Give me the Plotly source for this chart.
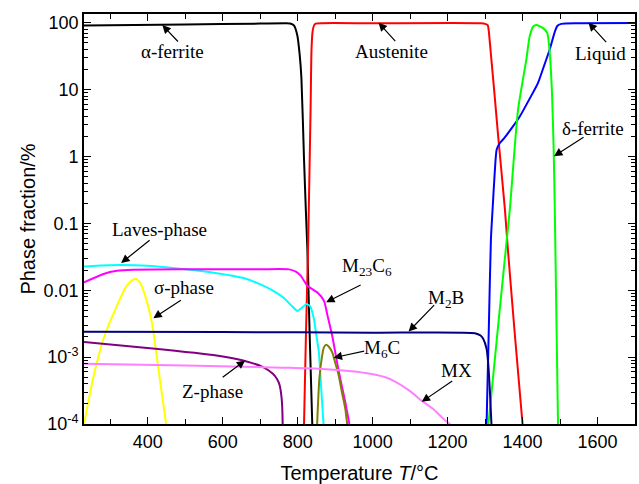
import plotly.graph_objects as go
import math

# ---------------- data ----------------
alpha_T = [230, 500, 700, 770, 780, 790, 799, 805, 810, 817, 822, 826, 832, 839]
alpha_v = [91, 94, 97, 98, 97, 91, 65, 35, 15, 0.9, 0.15, 0.04, 0.0022, 1e-4]

aus_T = [817, 822, 828, 834.5, 837, 840, 844, 848, 1000, 1290, 1300, 1307, 1313, 1335, 1353, 1361, 1380, 1400]
aus_v = [1e-4, 0.002, 0.05, 5, 40, 75, 92, 97, 98, 98, 96, 92, 49, 2, 0.16, 0.04, 0.002, 1e-4]

liq_T = [1304, 1310, 1315.6, 1320, 1326, 1331, 1340, 1350, 1370, 1393, 1420, 1441, 1460, 1472, 1486, 1493, 1503, 1550, 1700]
liq_v = [1e-4, 0.0027, 0.058, 0.16, 0.6, 1.27, 1.6, 1.85, 2.6, 4, 7.5, 12.5, 25, 39, 73, 90, 96, 98, 99]

delta_T = [1309, 1335, 1358, 1366, 1388, 1410, 1419, 1428, 1437, 1455, 1466, 1472, 1478.5, 1483, 1486, 1490, 1494.6]
delta_v = [1e-4, 0.003, 0.058, 0.16, 5, 28, 62, 87, 92, 83, 70, 39, 9, 1.27, 0.16, 0.005, 1e-4]

laves_T = [230, 300, 400, 500, 584, 660, 708, 735, 760, 786, 799, 812, 823, 833, 843, 850, 856.5, 863, 869]
laves_v = [0.0227, 0.0237, 0.0232, 0.0206, 0.018, 0.015, 0.0117, 0.0098, 0.0079, 0.0057, 0.0049, 0.0055, 0.0062, 0.0058, 0.0038, 0.0021, 0.0012, 0.00033, 1e-4]

m23_T = [230, 282, 318, 362, 500, 700, 777, 795, 808, 826, 852, 870, 880, 892, 910, 927, 938]
m23_v = [0.0131, 0.0175, 0.0195, 0.0203, 0.0206, 0.0206, 0.0205, 0.019, 0.0165, 0.0117, 0.0093, 0.0070, 0.0041, 0.0021, 0.0006, 0.000214, 1e-4]

m2b_T = [230, 600, 1000, 1273, 1288, 1295, 1304, 1308, 1313, 1317]
m2b_v = [0.0024, 0.00237, 0.00232, 0.00228, 0.0021, 0.00188, 0.00133, 0.00085, 0.0003, 1e-4]

m6c_T = [852, 858, 865.5, 870, 876, 882, 892, 900, 909.6, 918, 927, 932]
m6c_v = [1e-4, 4.8e-4, 0.00106, 0.0014, 0.00153, 0.00145, 0.00119, 0.00083, 0.00053, 0.0003, 0.00017, 1e-4]

z_T = [230, 406, 583.5, 654.5, 707.6, 734, 745, 752, 757, 759, 760]
z_v = [0.00168, 0.00136, 0.00106, 0.00089, 0.00071, 0.000565, 0.00047, 0.00038, 0.00025, 0.00017, 1e-4]

mx_T = [230, 500, 761, 856, 981, 1034, 1060, 1100, 1131, 1160, 1193, 1207]
mx_v = [0.000796, 0.00075, 0.000695, 0.00067, 0.00058, 0.0005, 0.00043, 0.00031, 0.000222, 0.00017, 0.000114, 1e-4]

sigma_T = [230, 256, 282, 318, 344, 360, 369, 380, 393, 411, 428.5, 449]
sigma_v = [1e-4, 5.3e-4, 0.00188, 0.0059, 0.0117, 0.0143, 0.0147, 0.0128, 0.0083, 0.00333, 0.00067, 1e-4]

y_tickvals = [1e-4, 1e-3, 0.01, 0.1, 1, 10, 100]
y_ticktext = ["10<sup>-4</sup>", "10<sup>-3</sup>", "0.01", "0.1", "1", "10", "100"]

series = [
    ("α-ferrite", alpha_T, alpha_v, "#000000"),
    ("Austenite", aus_T, aus_v, "#FF0000"),
    ("Liquid", liq_T, liq_v, "#0000FF"),
    ("δ-ferrite", delta_T, delta_v, "#00FF00"),
    ("Laves-phase", laves_T, laves_v, "#00FFFF"),
    ("M23C6", m23_T, m23_v, "#FF00FF"),
    ("σ-phase", sigma_T, sigma_v, "#FFFF00"),
    ("M2B", m2b_T, m2b_v, "#000080"),
    ("M6C", m6c_T, m6c_v, "#808000"),
    ("Z-phase", z_T, z_v, "#800080"),
    ("MX", mx_T, mx_v, "#FF80FF"),
]

# label text position (T, log10 value) and arrow tip (T, log10 value, dx, dy in px)
labels = [
    ("α-ferrite", 466, 1.568, 439, 1.966, 17, 18),
    ("Austenite", 1050, 1.568, 1016, 2.0, 18, 20),
    ("Liquid", 1609, 1.545, 1576, 2.0, 19, 21),
    ("δ-ferrite", 1587, 0.412, 1484, 0.004, 31, -20),
    ("Laves-phase", 431, -1.088, 329, -1.594, 30, -24),
    ("σ-phase", 498, -1.956, 415, -2.418, 29, -19),
    ("Z-phase", 573, -3.52, 660, -3.05, -24, 18),
    ("M<sub>23</sub>C<sub>6</sub>", 985, -1.658, 876, -2.18, 36, -18),
    ("M<sub>2</sub>B", 1197, -2.13, 1096, -2.618, 27, -28),
    ("M<sub>6</sub>C", 1025, -2.875, 896, -3.009, 32, -7),
    ("MX", 1224, -3.199, 1131, -3.669, 32, -22),
]

fig = go.Figure()
for name, xs, ys, col in series:
    fig.add_trace(go.Scatter(x=xs, y=ys, mode="lines", name=name,
                             line=dict(color=col, width=2, shape="spline", smoothing=0.6),
                             showlegend=False))

serif = "Liberation Serif, Times New Roman, serif"
for text, tx, ty, ax_, ay_, dx, dy in labels:
    fig.add_annotation(x=tx, y=ty, text=text, showarrow=False,
                       font=dict(family=serif, size=19, color="black"))
    fig.add_annotation(x=ax_, y=ay_, text="", showarrow=True, ax=dx, ay=dy,
                       arrowhead=2, arrowsize=1.4, arrowwidth=1.2, arrowcolor="black")

sans = "Liberation Sans, Arial, sans-serif"
minor_y = [m * 10 ** e for e in range(-4, 3) for m in range(2, 10)]
fig.update_layout(
    width=639, height=484,
    margin=dict(l=84, r=2, t=14, b=58),
    paper_bgcolor="white", plot_bgcolor="white",
    font=dict(family=sans, size=18, color="black"),
    xaxis=dict(range=[230, 1700], tickmode="linear", tick0=400, dtick=200,
               ticks="inside", ticklen=7, tickwidth=1.2, tickcolor="black",
               minor=dict(ticks="inside", ticklen=5, dtick=100, tick0=300, tickcolor="black", tickwidth=1.2),
               showline=True, linewidth=1.8, linecolor="black", mirror="ticks",
               showgrid=False, zeroline=False,
               tickfont=dict(family=sans, size=18),
               title=dict(text="Temperature <i>T</i>/°C", font=dict(family=sans, size=20), standoff=16)),
    yaxis=dict(type="log", range=[-4, 2.13], tickmode="array", tickvals=y_tickvals, ticktext=y_ticktext,
               ticks="inside", ticklen=7, tickwidth=1.2, tickcolor="black",
               minor=dict(ticks="inside", ticklen=4, tickmode="array", tickvals=minor_y, tickcolor="black", tickwidth=1),
               showline=True, linewidth=1.8, linecolor="black", mirror="ticks",
               showgrid=False, zeroline=False,
               tickfont=dict(family=sans, size=18),
               title=dict(text="Phase fraction/%", font=dict(family=sans, size=20), standoff=2)),
)

fig.write_html("out.html", config={"displayModeBar": False},
               post_script="document.body.style.margin='0';")
